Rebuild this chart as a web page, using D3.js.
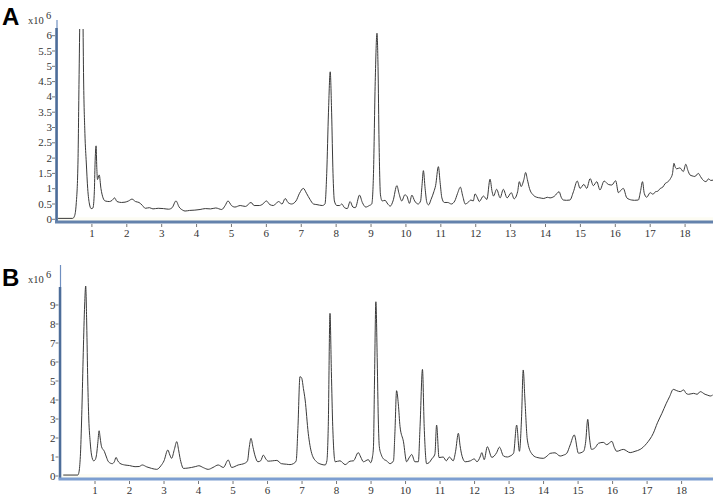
<!DOCTYPE html>
<html>
<head>
<meta charset="utf-8">
<script src="https://cdn.jsdelivr.net/npm/d3@7"></script>
<style>
  body { margin: 0; background: #fff; }
  svg { display: block; }
  text { font-family: "Liberation Serif", "DejaVu Serif", serif; fill: #333; }
</style>
</head>
<body>
<script>
// chromatogram traces, [time (min), intensity (x10^6)]
const traceA = [[0.03,0.03],[0.45,0.03],[0.5,0.1],[0.55,0.5],[0.6,1.8],[0.63,4.4],[0.66,7],[0.7,8.5],[0.74,7],[0.76,4.8],[0.8,2.8],[0.84,1.84],[0.88,1.0],[0.93,0.5],[0.98,0.35],[1.03,0.37],[1.07,0.9],[1.09,1.8],[1.12,2.4],[1.14,1.7],[1.16,1.3],[1.21,1.45],[1.26,1.0],[1.32,0.7],[1.38,0.6],[1.5,0.58],[1.58,0.62],[1.65,0.7],[1.72,0.58],[1.85,0.55],[1.95,0.56],[2.05,0.6],[2.15,0.66],[2.25,0.58],[2.35,0.55],[2.45,0.45],[2.53,0.36],[2.65,0.38],[2.75,0.34],[2.9,0.36],[3.05,0.35],[3.2,0.33],[3.3,0.38],[3.41,0.6],[3.5,0.4],[3.6,0.3],[3.67,0.27],[3.8,0.29],[3.95,0.3],[4.1,0.32],[4.25,0.35],[4.4,0.34],[4.55,0.37],[4.72,0.32],[4.82,0.45],[4.9,0.6],[5.0,0.45],[5.1,0.4],[5.25,0.45],[5.4,0.42],[5.56,0.55],[5.65,0.45],[5.8,0.45],[5.9,0.5],[6.0,0.6],[6.1,0.48],[6.2,0.45],[6.35,0.58],[6.45,0.5],[6.54,0.68],[6.62,0.55],[6.72,0.5],[6.85,0.6],[6.95,0.85],[7.06,1.01],[7.15,0.85],[7.25,0.65],[7.35,0.5],[7.45,0.48],[7.6,0.45],[7.68,0.5],[7.73,1.5],[7.78,3.5],[7.83,4.82],[7.87,3.5],[7.91,1.5],[7.95,0.6],[8.02,0.45],[8.1,0.45],[8.16,0.5],[8.24,0.38],[8.32,0.35],[8.4,0.58],[8.48,0.4],[8.55,0.38],[8.67,0.79],[8.75,0.55],[8.85,0.4],[8.95,0.45],[9.02,0.5],[9.07,1.5],[9.12,4.5],[9.17,6.08],[9.2,5.0],[9.23,2.5],[9.27,0.8],[9.32,0.6],[9.4,0.62],[9.48,0.5],[9.55,0.43],[9.63,0.6],[9.74,1.1],[9.8,0.85],[9.88,0.6],[9.97,0.8],[10.03,0.75],[10.1,0.52],[10.17,0.79],[10.25,0.6],[10.35,0.5],[10.42,0.6],[10.46,1.1],[10.5,1.59],[10.55,1.0],[10.6,0.55],[10.65,0.47],[10.72,0.65],[10.8,0.9],[10.85,1.1],[10.93,1.72],[10.98,1.2],[11.03,0.7],[11.1,0.55],[11.2,0.55],[11.3,0.5],[11.4,0.6],[11.48,0.85],[11.56,1.05],[11.63,0.75],[11.7,0.5],[11.78,0.55],[11.86,0.63],[11.93,0.6],[11.98,0.83],[12.05,0.7],[12.1,0.58],[12.22,0.76],[12.32,0.65],[12.41,1.31],[12.47,0.9],[12.51,0.76],[12.6,0.98],[12.7,0.7],[12.79,0.98],[12.9,0.7],[13.02,0.87],[13.1,0.67],[13.2,0.9],[13.25,1.23],[13.3,1.07],[13.38,1.3],[13.43,1.53],[13.48,1.3],[13.54,1.01],[13.65,0.79],[13.75,0.72],[13.84,0.7],[13.95,0.68],[14.05,0.72],[14.13,0.7],[14.25,0.75],[14.39,0.9],[14.45,0.72],[14.51,0.63],[14.6,0.62],[14.7,0.63],[14.8,0.9],[14.91,1.25],[14.99,1.01],[15.1,1.14],[15.18,1.01],[15.28,1.33],[15.37,1.1],[15.47,1.23],[15.56,0.96],[15.68,1.25],[15.8,1.14],[15.9,1.12],[16.01,1.26],[16.09,0.87],[16.16,0.95],[16.23,1.01],[16.33,0.7],[16.47,0.63],[16.55,0.62],[16.66,0.63],[16.72,0.9],[16.78,1.23],[16.83,0.85],[16.9,0.72],[17.0,0.87],[17.08,0.82],[17.15,0.9],[17.22,0.92],[17.29,1.01],[17.36,1.05],[17.43,1.17],[17.5,1.22],[17.58,1.33],[17.64,1.5],[17.68,1.83],[17.72,1.7],[17.76,1.65],[17.85,1.68],[17.95,1.56],[18.02,1.8],[18.08,1.6],[18.14,1.45],[18.2,1.42],[18.28,1.4],[18.38,1.5],[18.44,1.4],[18.5,1.3],[18.6,1.23],[18.67,1.32],[18.74,1.27],[18.8,1.28]];

const traceB = [[0.08,0.05],[0.5,0.05],[0.52,0.1],[0.56,0.6],[0.58,1.2],[0.62,3.5],[0.66,6.5],[0.7,9.0],[0.73,10.0],[0.76,8.0],[0.79,5.0],[0.82,3.0],[0.86,1.8],[0.9,1.1],[0.96,0.8],[1.0,0.84],[1.05,1.2],[1.08,1.72],[1.12,2.38],[1.15,2.0],[1.19,1.54],[1.27,1.3],[1.33,1.0],[1.39,0.75],[1.5,0.65],[1.56,0.75],[1.61,0.98],[1.66,0.8],[1.72,0.67],[1.86,0.58],[2.0,0.55],[2.16,0.49],[2.28,0.5],[2.37,0.58],[2.5,0.48],[2.64,0.4],[2.79,0.35],[2.91,0.54],[3.0,0.8],[3.11,1.37],[3.17,1.1],[3.22,0.93],[3.3,1.4],[3.37,1.81],[3.42,1.4],[3.46,0.98],[3.51,0.6],[3.56,0.4],[3.7,0.42],[3.8,0.45],[3.92,0.5],[4.01,0.54],[4.14,0.44],[4.28,0.35],[4.42,0.45],[4.57,0.58],[4.72,0.45],[4.86,0.84],[4.96,0.45],[5.15,0.58],[5.34,0.67],[5.42,0.8],[5.47,1.5],[5.52,1.98],[5.58,1.5],[5.64,1.05],[5.72,0.75],[5.8,0.8],[5.88,1.1],[5.95,0.9],[6.02,0.78],[6.15,0.8],[6.27,0.82],[6.4,0.65],[6.55,0.62],[6.65,0.6],[6.75,0.65],[6.83,0.8],[6.88,2.5],[6.94,5.23],[6.99,5.15],[7.04,4.6],[7.09,4.0],[7.18,2.25],[7.28,1.19],[7.42,0.75],[7.55,0.62],[7.67,0.58],[7.72,0.8],[7.76,2.6],[7.81,8.56],[7.85,5.5],[7.89,2.6],[7.96,0.75],[8.1,0.8],[8.25,0.6],[8.39,0.78],[8.49,0.8],[8.63,1.23],[8.7,1.0],[8.78,0.75],[8.92,0.86],[8.99,0.7],[9.04,1.0],[9.07,1.54],[9.1,5.0],[9.14,9.17],[9.18,6.0],[9.21,3.0],[9.24,1.54],[9.3,1.1],[9.36,0.9],[9.45,0.8],[9.55,0.65],[9.65,0.8],[9.69,2.2],[9.74,4.49],[9.79,3.8],[9.84,2.6],[9.94,1.8],[10.03,0.75],[10.1,0.95],[10.18,1.13],[10.27,0.75],[10.37,0.75],[10.42,2.6],[10.49,5.61],[10.54,2.6],[10.61,0.65],[10.68,0.7],[10.76,0.9],[10.85,1.15],[10.9,2.68],[10.97,0.97],[11.09,1.0],[11.18,0.8],[11.27,1.0],[11.38,0.8],[11.45,1.3],[11.53,2.25],[11.58,1.6],[11.63,1.1],[11.73,0.75],[11.88,0.8],[11.99,0.9],[12.07,0.75],[12.16,1.0],[12.21,1.23],[12.28,0.86],[12.37,1.54],[12.5,0.98],[12.64,1.23],[12.72,1.52],[12.84,1.05],[12.95,1.0],[13.03,1.05],[13.13,1.2],[13.22,2.68],[13.3,1.3],[13.36,3.0],[13.41,5.58],[13.46,4.0],[13.53,1.89],[13.65,1.19],[13.8,0.98],[13.99,0.93],[14.1,1.05],[14.19,1.19],[14.33,1.22],[14.48,1.05],[14.58,1.1],[14.67,1.19],[14.77,1.63],[14.89,2.16],[15.01,1.2],[15.16,1.3],[15.22,1.8],[15.28,2.98],[15.33,2.0],[15.39,1.4],[15.5,1.5],[15.59,1.72],[15.73,1.77],[15.83,1.65],[15.98,1.82],[16.05,1.5],[16.12,1.3],[16.31,1.4],[16.51,1.23],[16.65,1.3],[16.8,1.4],[16.99,1.72],[17.18,2.25],[17.3,2.8],[17.43,3.3],[17.55,3.8],[17.65,4.17],[17.76,4.56],[17.86,4.49],[17.96,4.44],[18.06,4.53],[18.13,4.35],[18.2,4.3],[18.35,4.35],[18.45,4.3],[18.54,4.44],[18.68,4.3],[18.76,4.25],[18.83,4.21],[18.9,4.26]];

const xTicks = d3.range(1, 19);
const yTicksA = [0, 0.5, 1, 1.5, 2, 2.5, 3, 3.5, 4, 4.5, 5, 5.5, 6];
const yTicksB = [0, 1, 2, 3, 4, 5, 6, 7, 8, 9];
const panelLabels = ["A", "B"];

const svg = d3.select("body").append("svg")
  .attr("width", 716)
  .attr("height", 495);

// one chromatogram panel
function drawPanel(p) {
  const x = d3.scaleLinear().domain([0, p.tMax]).range([p.left, 713]);
  const y = d3.scaleLinear().domain([0, p.yMax]).range([p.zeroY, p.yMaxY]);
  const g = svg.append("g");

  // very faint tint just above the axis
  g.append("rect")
    .attr("x", p.left).attr("y", p.zeroY - 2)
    .attr("width", 713 - p.left).attr("height", p.axisY - p.zeroY + 2)
    .attr("fill", "#fdfcf3");

  g.append("clipPath").attr("id", "clip" + p.label)
    .append("rect")
    .attr("x", p.left).attr("y", p.clipTop)
    .attr("width", 713 - p.left).attr("height", p.axisY - p.clipTop);

  const line = d3.line()
    .x(d => x(d[0]))
    .y(d => y(d[1]))
    .curve(d3.curveMonotoneX);

  g.append("path")
    .datum(p.trace)
    .attr("clip-path", `url(#clip${p.label})`)
    .attr("fill", "none")
    .attr("stroke", "#3a3a3a")
    .attr("stroke-width", 1)
    .attr("d", line);

  // y axis: thin line at top, heavy spine below
  g.append("line")
    .attr("x1", p.left).attr("x2", p.left)
    .attr("y1", p.top).attr("y2", p.axisY)
    .attr("stroke", "#6f8fc0").attr("stroke-width", 1.2);
  g.append("line")
    .attr("x1", p.left - 0.5).attr("x2", p.left - 0.5)
    .attr("y1", p.thickTop).attr("y2", p.axisY)
    .attr("stroke", p.spineColor).attr("stroke-width", 2.5);

  // x axis
  g.append("line")
    .attr("x1", p.left - 2).attr("x2", 713)
    .attr("y1", p.axisY).attr("y2", p.axisY)
    .attr("stroke", p.axisColor).attr("stroke-width", 3);

  g.selectAll(".xt").data(xTicks).join("line")
    .attr("x1", d => x(d)).attr("x2", d => x(d))
    .attr("y1", p.axisY + 2).attr("y2", p.axisY + 5)
    .attr("stroke", "#777");

  g.selectAll(".xl").data(xTicks).join("text")
    .attr("x", d => x(d))
    .attr("y", p.axisY + 15)
    .attr("text-anchor", "middle")
    .attr("font-size", 11)
    .text(d => d);

  // y ticks
  g.selectAll(".yt").data(p.yTicks).join("line")
    .attr("x1", p.left - 5).attr("x2", p.left - 2)
    .attr("y1", d => y(d)).attr("y2", d => y(d))
    .attr("stroke", "#777");

  g.selectAll(".yl").data(p.yTicks).join("text")
    .attr("x", p.left - 5)
    .attr("y", d => y(d) + 3.5)
    .attr("text-anchor", "end")
    .attr("font-size", 11)
    .text(d => d);

  // x10^6 multiplier
  g.append("text")
    .attr("x", 28).attr("y", p.expY)
    .attr("font-size", 10.5)
    .text("x10");
  g.append("text")
    .attr("x", 46).attr("y", p.expY - 5)
    .attr("font-size", 10.5)
    .text("6");

  // panel letter
  g.append("text")
    .attr("x", 2).attr("y", p.letterY)
    .style("font-family", "Liberation Sans, Arial, sans-serif")
    .attr("font-weight", "bold")
    .attr("font-size", 24)
    .style("fill", "#000")
    .text(p.label);
}

drawPanel({
  label: panelLabels[0], trace: traceA, yTicks: yTicksA,
  tMax: 18.8, yMax: 6, left: 57, zeroY: 219.3, yMaxY: 35.7,
  axisY: 222, top: 20, thickTop: 28, clipTop: 29,
  spineColor: "#4d6d99", axisColor: "#6482ac", expY: 24, letterY: 25
});

drawPanel({
  label: panelLabels[1], trace: traceB, yTicks: yTicksB,
  tMax: 18.91, yMax: 9, left: 60.5, zeroY: 476, yMaxY: 305,
  axisY: 479, top: 265, thickTop: 287, clipTop: 265,
  spineColor: "#4d6d99", axisColor: "#7d9ed0", expY: 283, letterY: 286
});
</script>
</body>
</html>
